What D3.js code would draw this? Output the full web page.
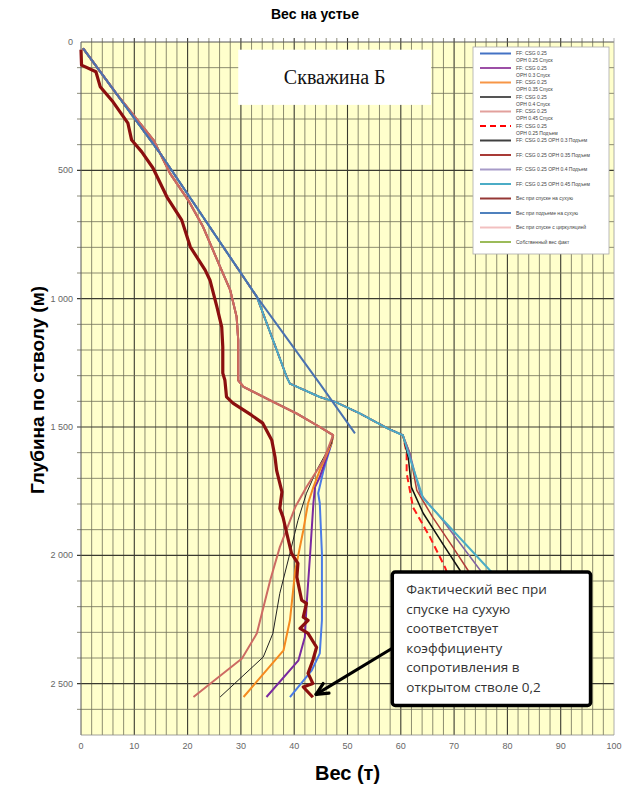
<!DOCTYPE html>
<html><head><meta charset="utf-8">
<script src="https://cdn.jsdelivr.net/npm/d3@7"></script>
<style>body{margin:0;background:#fff}svg{display:block}</style>
</head><body>
<script>
// ---- data: [weight (t), depth (m)] ----
const xTicks = [0,10,20,30,40,50,60,70,80,90,100];
const yTicks = [0,500,1000,1500,2000,2500];
const yTickLabels = ["0","500","1 000","1 500","2 000","2 500"];

// run in hole (Спуск) – cased part shared by all friction cases
const rihCased = [[0.4,25],[6.6,200],[13.6,382],[16.7,512],[20.1,616],[22.9,720],[26.1,876],[28.0,967],[29.2,1071],[29.5,1162],[29.5,1318],[30.5,1344],[35.5,1396],[40.5,1448],[44.8,1500],[47.3,1532]];
const rihOph025 = [[47.0,1563],[45.5,1669],[44.5,1758],[44.8,1797],[45.2,1992],[45.2,2253],[44.8,2382],[43.3,2448],[39.2,2552]];
const rihOph030 = [[47.0,1563],[44.8,1695],[43.9,1734],[43.6,1797],[43.0,1992],[42.3,2201],[42.0,2318],[40.8,2409],[34.8,2552]];
const rihOph035 = [[47.0,1563],[44.8,1669],[43.6,1734],[42.6,1797],[41.7,1903],[40.2,2058],[39.2,2253],[38.0,2370],[30.5,2552]];
const rihOph040 = [[47.0,1563],[44.2,1669],[42.3,1758],[40.7,1864],[39.2,1992],[37.3,2148],[36.0,2304],[34.2,2396],[26.1,2552]];
const rihOph045 = [[45.5,1630],[42.3,1734],[40.2,1812],[37.3,1968],[35.5,2097],[33.0,2304],[30.2,2402],[21.1,2552]];

// pull out of hole (Подъем) – cased part shared
const poohCased = [[0.4,25],[15.1,441],[33.0,993],[38.6,1305],[39.2,1331],[44.8,1383],[47.7,1402],[52.3,1447],[57.6,1506],[60.4,1532]];
const poohOph025 = [[61.1,1602],[61.1,1680],[62.3,1813],[65.5,1930],[68.3,2047],[69.2,2097]];
const poohOph030 = [[61.4,1618],[62.0,1735],[64.2,1836],[68.3,1969],[71.1,2058],[72.0,2097]];
const poohOph035 = [[61.7,1602],[63.0,1747],[66.0,1852],[69.8,1969],[72.6,2058],[73.4,2097]];
const poohOph040 = [[61.7,1602],[63.6,1758],[67.9,1864],[74.9,2058],[75.8,2097]];
const poohOph045 = [[61.4,1602],[64.2,1778],[76.7,2058],[78.6,2097]];

// dry pick-up weight
const poohDry = [[0.4,25],[15.1,441],[33.0,993],[44.8,1331],[51.4,1525]];
// actual dry slack-off weight
const rihActual = [[0.0,30],[0.1,90],[2.8,116],[3.6,174],[6.0,233],[8.8,316],[9.5,382],[11.4,428],[13.5,491],[16.1,603],[18.9,694],[20.5,798],[23.3,889],[24.2,928],[25.5,1032],[26.4,1110],[26.6,1188],[26.6,1290],[27.0,1318],[27.3,1383],[28.5,1407],[32.0,1454],[34.1,1485],[35.8,1552],[36.4,1617],[36.7,1669],[37.7,1753],[37.3,1817],[37.9,1851],[38.6,1914],[39.5,1992],[40.7,2031],[40.5,2085],[41.4,2175],[42.3,2187],[41.7,2241],[42.6,2253],[41.1,2285],[42.6,2304],[44.2,2358],[43.5,2409],[42.6,2460],[43.5,2499],[41.7,2513],[43.5,2553]];

const legendLabels = [
  ["FF: CSG 0.25","OPH 0.25 Спуск"],["FF: CSG 0.25","OPH 0.3 Спуск"],["FF: CSG 0.25","OPH 0.35 Спуск"],
  ["FF: CSG 0.25","OPH 0.4 Спуск"],["FF: CSG 0.25","OPH 0.45 Спуск"],["FF: CSG 0.25","OPH 0.25 Подъем"],
  ["FF: CSG 0.25 OPH 0.3 Подъем"],["FF: CSG 0.25 OPH 0.35 Подъем"],["FF: CSG 0.25 OPH 0.4 Подъем"],
  ["FF: CSG 0.25 OPH 0.45 Подъем"],["Вес при спуске на сухую"],["Вес при подъеме на сухую"],
  ["Вес при спуске с циркуляцией"],["Собственный вес факт"]];
const legendColors = ["#4472c4","#9c4fa6","#f79646","#555555","#e2a09c","#ff0000","#404040","#a83a36","#a79bc8","#4bacc6","#953735","#4f81bd","#f2c0c0","#9bbb59"];
const legendDash = [null,null,null,null,null,"6,4",null,null,null,null,null,null,null,null];

const noteLines = ["Фактический вес при","спуске на сухую","соответствует","коэффициенту","сопротивления в","открытом стволе 0,2"];

// ---- chart ----
const W=631,H=787;
const svg=d3.select("body").append("svg").attr("width",W).attr("height",H);
const x=d3.scaleLinear().domain([0,100]).range([81,614]);
const y=d3.scaleLinear().domain([0,2700]).range([42,735]);

svg.append("rect").attr("x",x(0)).attr("y",y(0)).attr("width",x(100)-x(0)).attr("height",y(2700)-y(0)).attr("fill","#ffffcc");

const g=svg.append("g");
// grid
g.selectAll(".vg").data(d3.range(2,100,2)).join("line")
  .attr("x1",d=>x(d)).attr("x2",d=>x(d)).attr("y1",y(0)-4).attr("y2",y(2700))
  .attr("stroke",d=>d%10===0?"#3a3a30":"#6f6f58").attr("stroke-width",d=>d%10===0?1.1:0.8);
g.selectAll(".hg").data(d3.range(100,2700,100)).join("line")
  .attr("y1",d=>y(d)).attr("y2",d=>y(d)).attr("x1",x(0)-4).attr("x2",x(100))
  .attr("stroke",d=>d%500===0?"#3a3a30":"#6f6f58").attr("stroke-width",d=>d%500===0?1.1:0.8);
// frame
g.append("line").attr("x1",x(0)).attr("x2",x(100)).attr("y1",y(0)).attr("y2",y(0)).attr("stroke","#555").attr("stroke-width",1);
g.append("line").attr("x1",x(0)).attr("x2",x(0)).attr("y1",y(0)).attr("y2",y(2700)).attr("stroke","#555").attr("stroke-width",1);
g.append("line").attr("x1",x(100)).attr("x2",x(100)).attr("y1",y(0)-4).attr("y2",y(2700)).attr("stroke","#999").attr("stroke-width",0.8);
g.append("line").attr("x1",x(0)).attr("x2",x(100)).attr("y1",y(2700)).attr("y2",y(2700)).attr("stroke","#888").attr("stroke-width",0.8);

// tick labels
svg.selectAll(".xt").data(xTicks).join("text").attr("x",d=>x(d)).attr("y",749)
  .attr("text-anchor","middle").attr("font-family","Liberation Sans, Arial, sans-serif").attr("font-size",9).attr("fill","#666").text(d=>d);
svg.selectAll(".yt").data(yTicks).join("text").attr("x",x(0)-8).attr("y",d=>y(d)+3)
  .attr("text-anchor","end").attr("font-family","Liberation Sans, Arial, sans-serif").attr("font-size",9).attr("fill","#666").text((d,i)=>yTickLabels[i]);

// titles
svg.append("text").attr("x",315).attr("y",19).attr("text-anchor","middle").attr("font-family","Liberation Sans, Arial, sans-serif").attr("font-weight","bold").attr("font-size",14).text("Вес на устье");
svg.append("text").attr("x",(x(0)+x(100))/2).attr("y",780).attr("text-anchor","middle").attr("font-family","Liberation Sans, Arial, sans-serif").attr("font-weight","bold").attr("font-size",20).text("Вес (т)");
svg.append("text").attr("transform","translate(44,390) rotate(-90)").attr("text-anchor","middle").attr("font-family","Liberation Sans, Arial, sans-serif").attr("font-weight","bold").attr("font-size",19).text("Глубина по стволу (м)");

// lines
const line=d3.line().x(d=>x(d[0])).y(d=>y(d[1]));
function draw(data,color,w,dash){
  const p=g.append("path").attr("d",line(data)).attr("fill","none").attr("stroke",color).attr("stroke-width",w).attr("stroke-linejoin","round");
  if(dash) p.attr("stroke-dasharray",dash);
}
// Подъем
draw(poohCased.concat(poohOph025),"#ff1a1a",2,"7,4");
draw(poohCased.concat(poohOph030),"#111111",1.5);
draw(poohCased.concat(poohOph035),"#b03c38",1.5);
draw(poohCased.concat(poohOph040),"#8064a2",1.5);
draw(poohCased.concat(poohOph045),"#4bacc6",2);
// Спуск
draw(rihCased.concat(rihOph025),"#4a7be6",2);
draw(rihCased.concat(rihOph030),"#7a2aa0",2);
draw(rihCased.concat(rihOph035),"#f58a1f",2);
draw(rihCased.concat(rihOph040),"#222222",1);
draw(rihCased.concat(rihOph045),"#cd6b63",2);
// dry pick-up
draw(poohDry,"#4a72b0",2);
// actual
draw(rihActual,"#8b0f0f",3.2);

// well name box
const wb=[29.5,65.7,30,245];
svg.append("rect").attr("x",x(wb[0])).attr("y",y(wb[2])).attr("width",x(wb[1])-x(wb[0])).attr("height",y(wb[3])-y(wb[2])).attr("fill","#fff");
svg.append("text").attr("x",(x(wb[0])+x(wb[1]))/2).attr("y",(y(wb[2])+y(wb[3]))/2+7).attr("text-anchor","middle")
  .attr("font-family","Liberation Serif, Times New Roman, serif").attr("font-size",20).attr("fill","#111").text("Скважина Б");

// legend
const lg=svg.append("g").attr("transform","translate(473,47)");
lg.append("rect").attr("width",136).attr("height",207).attr("fill","#fff").attr("stroke","#aaa").attr("stroke-width",0.8);
legendLabels.forEach((lab,i)=>{
  const yy=6.5+i*14.5;
  const l=lg.append("line").attr("x1",7).attr("x2",38).attr("y1",yy).attr("y2",yy).attr("stroke",legendColors[i]).attr("stroke-width",2);
  if(legendDash[i]) l.attr("stroke-dasharray",legendDash[i]);
  lab.forEach((t,j)=>lg.append("text").attr("x",43).attr("y",yy+1.8+j*7).attr("font-family","Liberation Sans, Arial, sans-serif").attr("font-size",5).attr("fill","#444").text(t));
});

// annotation box + arrow
const nb=[58.4,95.6,2065,2585];
const tip=[44.1,2542], from=[58.4,2362];
const ax1=x(from[0]),ay1=y(from[1]),ax2=x(tip[0]),ay2=y(tip[1]);
svg.append("line").attr("x1",ax1).attr("y1",ay1).attr("x2",ax2).attr("y2",ay2).attr("stroke","#000").attr("stroke-width",3.2);
const ang=Math.atan2(ay2-ay1,ax2-ax1), hl=13;
[0.45,-0.45].forEach(a=>{
  svg.append("line").attr("x1",ax2).attr("y1",ay2)
    .attr("x2",ax2-hl*Math.cos(ang+a)).attr("y2",ay2-hl*Math.sin(ang+a))
    .attr("stroke","#000").attr("stroke-width",3.2).attr("stroke-linecap","round");
});
svg.append("rect").attr("x",x(nb[0])).attr("y",y(nb[2])).attr("width",x(nb[1])-x(nb[0])).attr("height",y(nb[3])-y(nb[2]))
  .attr("fill","#fff").attr("stroke","#000").attr("stroke-width",3.5).attr("rx",3);
noteLines.forEach((t,i)=>svg.append("text").attr("x",x(nb[0])+14).attr("y",y(nb[2])+22+i*19.5)
  .attr("font-family","Open Sans, Noto Sans, sans-serif").attr("font-size",13.5).attr("fill","#333").text(t));
</script>
</body></html>
